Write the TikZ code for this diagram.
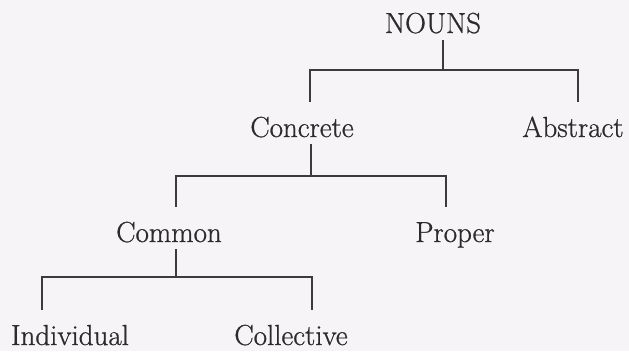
\documentclass[tikz,border=0pt]{standalone}
\usepackage{fontspec}
\newfontfamily\lblfont[FakeBold=0.8]{Latin Modern Roman}
\definecolor{bg}{RGB}{246,244,246}
\definecolor{ink}{RGB}{44,42,44}
\definecolor{linec}{RGB}{60,58,60}
\begin{document}
\begin{tikzpicture}[x=1pt,y=-1pt,
  lbl/.style={anchor=base,text=ink,font=\lblfont\fontsize{29}{34}\selectfont,
    text height=28pt,text depth=0pt,inner xsep=0pt,inner ysep=7pt},
  conn/.style={draw=linec,line width=2.2pt}]
\fill[bg] (0,0) rectangle (629,351);
\useasboundingbox (0,0) rectangle (629,351);
% nodes
\node[lbl] (nouns) at (433,33) {NOUNS};
\node[lbl] (concrete) at (302,137) {Concrete};
\node[lbl] (abstract) at (573,137) {Abstract};
\node[lbl] (common) at (169,242) {Common};
\node[lbl] (proper) at (455,242) {Proper};
\node[lbl] (individual) at (70,345) {Individual};
\node[lbl] (collective) at (291,345) {Collective};
% junction coordinates
\coordinate (j1) at (443,70);
\coordinate (x1l) at (310,0);
\coordinate (x1r) at (578,0);
\coordinate (j2) at (311,176);
\coordinate (x2l) at (176,0);
\coordinate (x2r) at (446,0);
\coordinate (j3) at (176,277);
\coordinate (x3l) at (42,0);
\coordinate (x3r) at (312,0);
% connectors
\draw[conn] (nouns.south -| j1) -- (j1);
\draw[conn] (concrete.north -| x1l) |- (j1) -| (abstract.north -| x1r);
\draw[conn] (concrete.south -| j2) -- (j2);
\draw[conn] (common.north -| x2l) |- (j2) -| (proper.north -| x2r);
\draw[conn] (common.south -| j3) -- (j3);
\draw[conn] (individual.north -| x3l) |- (j3) -| (collective.north -| x3r);
\end{tikzpicture}
\end{document}
